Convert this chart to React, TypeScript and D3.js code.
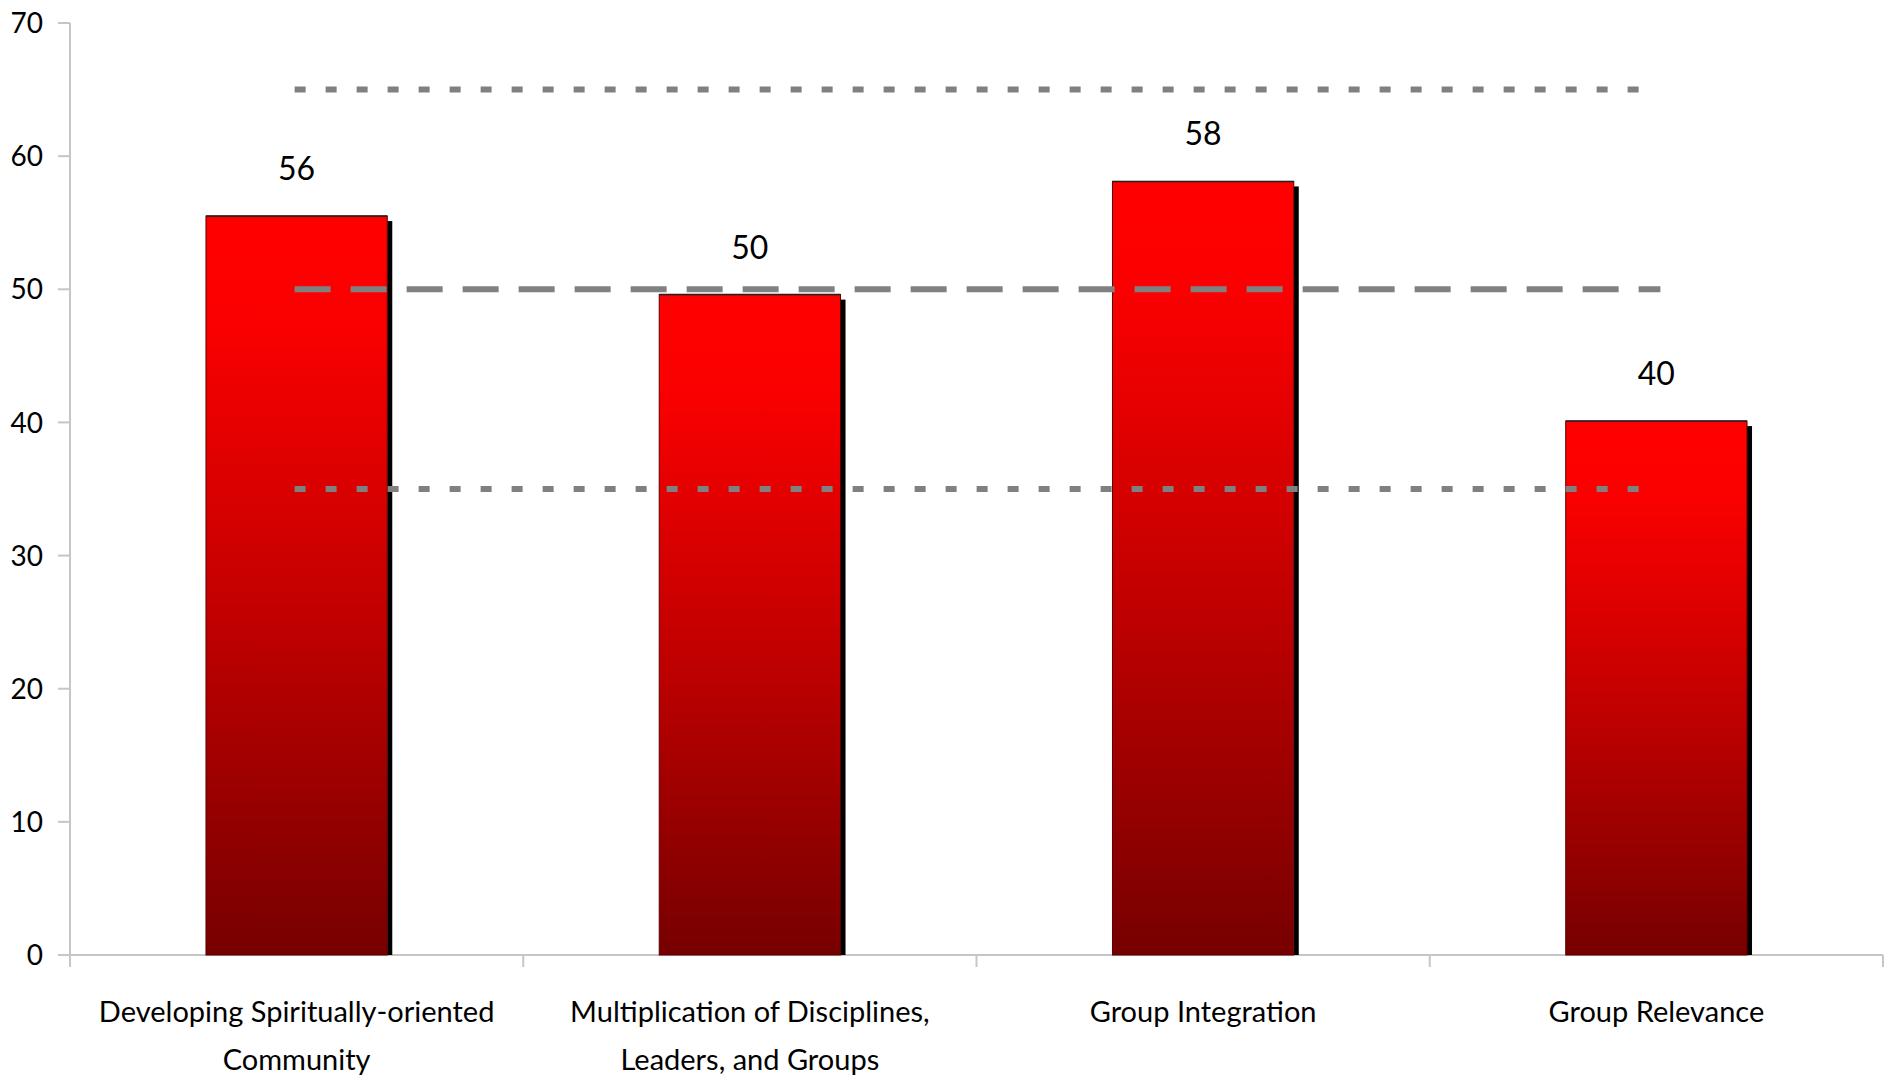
import React, { useEffect, useRef } from "react";
import * as d3 from "d3";

const categories: string[][] = [
  ["Developing Spiritually-oriented", "Community"],
  ["Multiplication of Disciplines,", "Leaders, and Groups"],
  ["Group Integration"],
  ["Group Relevance"],
];
const values: number[] = [55.5, 49.6, 58.1, 40.1];
const valueLabels: string[] = ["56", "50", "58", "40"];
const yTicks: number[] = [0, 10, 20, 30, 40, 50, 60, 70];
const upperRef = 65;
const meanRef = 50;
const lowerRef = 35;

const W = 1889;
const H = 1080;
const FONT = "Lato, 'Open Sans', sans-serif";

export default function App() {
  const ref = useRef<SVGSVGElement>(null);

  useEffect(() => {
    const svg = d3.select(ref.current);
    svg.selectAll("*").remove();

    const x0 = 70, x1 = 1883, yTop = 23, yBot = 955;
    const idx = categories.map((_, i) => String(i));
    const x = d3.scaleBand<string>().domain(idx).range([x0, x1]).paddingInner(0.6).paddingOuter(0.3);
    const y = d3.scaleLinear().domain([0, 70]).range([yBot, yTop]);

    const defs = svg.append("defs");
    const grad = defs.append("linearGradient").attr("id", "barGrad").attr("x1", 0).attr("y1", 0).attr("x2", 0).attr("y2", 1);
    grad.append("stop").attr("offset", "0%").attr("stop-color", "#ff0000");
    grad.append("stop").attr("offset", "14%").attr("stop-color", "#fb0000");
    grad.append("stop").attr("offset", "55%").attr("stop-color", "#c00000");
    grad.append("stop").attr("offset", "100%").attr("stop-color", "#770000");

    const axisColor = "#c6c6c6";
    // y axis
    svg.append("line").attr("x1", x0).attr("x2", x0).attr("y1", yTop).attr("y2", yBot + 12)
      .attr("stroke", axisColor).attr("stroke-width", 2);
    yTicks.forEach((t) => {
      svg.append("line").attr("x1", x0 - 12).attr("x2", x0).attr("y1", y(t)).attr("y2", y(t))
        .attr("stroke", axisColor).attr("stroke-width", 2);
      svg.append("text").attr("x", 43).attr("y", y(t)).attr("dy", "0.36em")
        .attr("text-anchor", "end").attr("font-family", FONT).attr("font-size", 28)
        .attr("fill", "#000").text(String(t));
    });
    // x axis
    svg.append("line").attr("x1", x0 - 12).attr("x2", x1).attr("y1", yBot).attr("y2", yBot)
      .attr("stroke", axisColor).attr("stroke-width", 2);
    const step = x.step();
    for (let i = 0; i <= categories.length; i++) {
      const xt = x0 + step * i;
      svg.append("line").attr("x1", xt).attr("x2", xt).attr("y1", yBot).attr("y2", yBot + 12)
        .attr("stroke", axisColor).attr("stroke-width", 2);
    }

    // bars
    const bw = x.bandwidth();
    values.forEach((v, i) => {
      const bx = x(String(i))!;
      const by = y(v);
      svg.append("rect").attr("x", bx + bw).attr("y", by + 5).attr("width", 5).attr("height", yBot - by - 5)
        .attr("fill", "#000");
      svg.append("rect").attr("x", bx).attr("y", by).attr("width", bw).attr("height", yBot - by)
        .attr("fill", "url(#barGrad)").attr("stroke", "#5a0000").attr("stroke-width", 1);
      svg.append("line").attr("x1", bx).attr("x2", bx + bw).attr("y1", by).attr("y2", by)
        .attr("stroke", "#222").attr("stroke-width", 1.5);
      svg.append("text").attr("x", bx + bw / 2).attr("y", by - 36).attr("text-anchor", "middle")
        .attr("font-family", FONT).attr("font-size", 32).attr("fill", "#000").text(valueLabels[i]);
    });

    // reference lines
    const cx0 = x("0")! + bw / 2;
    const cx3 = x(String(categories.length - 1))! + bw / 2;
    const refLine = (v: number, dash: string, endOff: number) =>
      svg.append("line").attr("x1", cx0 - 2).attr("x2", cx3 + endOff).attr("y1", y(v)).attr("y2", y(v))
        .attr("stroke", "#808080").attr("stroke-width", 6).attr("stroke-dasharray", dash);
    refLine(upperRef, "11 20", -2);
    refLine(lowerRef, "11 20", -2);
    refLine(meanRef, "36 20", 4);

    // category labels
    categories.forEach((lines, i) => {
      const cx = x(String(i))! + bw / 2;
      lines.forEach((ln, j) => {
        svg.append("text").attr("x", cx).attr("y", 1022 + j * 48).attr("text-anchor", "middle")
          .attr("font-family", FONT).attr("font-size", 29).attr("fill", "#000").text(ln);
      });
    });
  }, []);

  return (
    <svg ref={ref} width={W} height={H}
      style={{ position: "absolute", left: 0, top: 0, background: "#fff", display: "block" }} />
  );
}
